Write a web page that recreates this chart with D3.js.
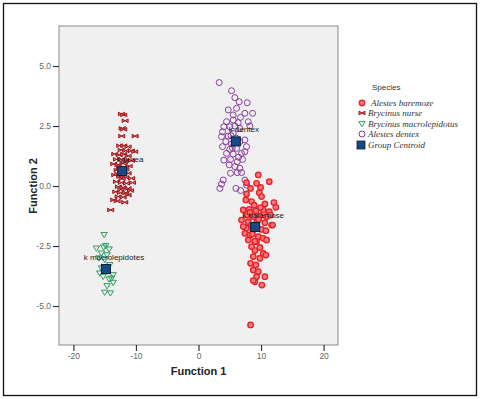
<!DOCTYPE html>
<html>
<head>
<meta charset="utf-8">
<script src="https://cdn.jsdelivr.net/npm/d3@7"></script>
<style>
  body { margin: 0; background: #fff; }
  svg { display: block; }
</style>
</head>
<body>
<div id="chart"></div>
<script>
// discriminant scores [function 1, function 2]
const baremoze = [
  [9.55, 0.46], [11.31, 0.18], [7.68, 0.14], [9.28, 0.11], [9.92, -0.06], [8.32, -0.10],
  [9.71, -0.28], [7.68, -0.33], [10.08, -0.44], [7.57, -0.58], [8.48, -0.65], [10.61, -0.75],
  [12.05, -0.69], [12.37, -0.89], [7.15, -1.0], [8.11, -0.97], [9.17, -1.03], [10.35, -1.0],
  [11.31, -1.07], [7.68, -1.21], [8.75, -1.28], [9.81, -1.25], [10.88, -1.28], [6.88, -1.42],
  [7.95, -1.49], [9.28, -1.53], [10.61, -1.53], [11.68, -1.63], [7.68, -1.76], [8.75, -1.83],
  [10.08, -1.81], [10.77, -1.86], [7.41, -1.97], [8.21, -2.04], [9.55, -2.11], [10.35, -2.18],
  [7.95, -2.25], [9.28, -2.32], [10.88, -2.25], [8.48, -2.53], [9.81, -2.56], [9.01, -2.69],
  [10.35, -2.81], [8.75, -2.94], [9.81, -3.01], [10.77, -2.88], [8.32, -3.22], [9.17, -3.29],
  [8.75, -3.50], [9.55, -3.57], [9.28, -3.78], [9.01, -3.99], [10.61, -3.78], [8.75, -3.94],
  [10.13, -4.13], [8.32, -5.79], [11.52, -1.21], [11.84, -1.63], [7.15, -1.69], [8.48, -1.63],
  [8.9, -0.8], [9.6, -1.4], [8.2, -1.1], [9.0, -2.3], [8.6, -2.0], [9.9, -0.9]
]
const nurse = [
  [-12.32, 3.0], [-11.95, 2.96], [-11.73, 2.72], [-12.21, 2.40], [-11.95, 2.36], [-12.27, 2.08],
  [-10.13, 2.08], [-12.59, 1.68], [-11.95, 1.68], [-11.25, 1.64], [-12.37, 1.50], [-11.63, 1.47],
  [-10.72, 1.47], [-10.19, 1.43], [-13.39, 1.33], [-12.69, 1.29], [-11.95, 1.33], [-11.25, 1.25],
  [-13.12, 1.11], [-12.32, 1.11], [-11.63, 1.08], [-10.72, 1.06], [-13.55, 0.92], [-12.85, 0.88],
  [-12.05, 0.94], [-11.09, 0.83], [-13.01, 0.67], [-11.95, 0.60], [-11.25, 0.53], [-13.39, 0.46],
  [-12.59, 0.39], [-11.63, 0.36], [-10.72, 0.32], [-13.12, 0.18], [-12.32, 0.14], [-11.52, 0.11],
  [-10.56, 0.14], [-12.80, -0.03], [-12.05, -0.06], [-11.25, -0.10], [-13.23, -0.24], [-12.48, -0.28],
  [-11.63, -0.28], [-10.88, -0.19], [-12.85, -0.44], [-12.05, -0.47], [-11.25, -0.38], [-13.55, -0.58],
  [-13.01, -0.63], [-11.79, -0.68], [-14.03, -1.0], [-12.6, 0.75], [-12.2, 0.3], [-11.8, 1.0],
  [-12.9, 0.5], [-12.4, -0.15], [-11.6, 0.7]
]
const macrolepidotus = [
  [-15.09, -2.04], [-16.32, -2.60], [-15.15, -2.56], [-14.29, -2.64], [-14.83, -2.50], [-15.52, -2.81],
  [-14.61, -2.88], [-15.89, -3.01], [-14.99, -3.08], [-14.19, -3.29], [-15.52, -3.43], [-14.61, -3.57],
  [-13.65, -3.71], [-15.25, -3.78], [-14.29, -3.89], [-13.65, -4.03], [-14.61, -4.17], [-14.99, -4.44],
  [-14.08, -4.47], [-15.79, -3.64], [-13.92, -3.85]
]
const dentex = [
  [3.31, 4.31], [5.28, 3.97], [5.81, 3.68], [6.51, 3.51], [7.79, 3.47], [4.75, 3.17],
  [6.08, 3.24], [7.41, 3.03], [8.64, 3.03], [5.55, 2.96], [6.72, 2.86], [4.48, 2.68],
  [5.55, 2.75], [6.35, 2.64], [7.95, 2.68], [5.01, 2.47], [4.05, 2.47], [6.61, 2.40],
  [8.21, 2.50], [3.68, 2.06], [4.75, 2.08], [5.55, 2.19], [4.37, 1.85], [5.28, 1.75],
  [6.61, 1.85], [7.41, 1.92], [3.84, 1.64], [5.01, 1.53], [6.08, 1.57], [7.68, 1.64],
  [4.48, 1.36], [5.55, 1.33], [6.88, 1.36], [7.41, 1.43], [4.05, 1.08], [5.12, 1.11],
  [6.19, 1.01], [7.04, 1.11], [4.91, 0.88], [5.81, 0.81], [6.61, 0.74], [5.12, 0.53],
  [6.19, 0.56], [6.88, 0.56], [7.41, 0.25], [7.68, 0.04], [3.95, 0.25], [3.68, 0.08],
  [3.41, -0.10], [5.97, -0.10], [6.72, -0.19], [3.84, 2.26], [5.81, 2.50],
  [5.2, 2.1], [6.0, 2.0], [5.4, 1.6], [6.4, 1.2]
]
const centroids = [
  { label: 'k baremose', x: 9.06, y: -1.71 },
  { label: 'k nurea', x: -12.2, y: 0.62 },
  { label: 'k macrolepidotes', x: -14.8, y: -3.46 },
  { label: 'k dentex', x: 5.97, y: 1.86 }
]
const xTicks = [-20, -10, 0, 10, 20]
const yTicks = [5, 2.5, 0, -2.5, -5]
const legendLabels = ['Alestes baremoze', 'Brycinus nurse', 'Brycinus macrolepidotus', 'Alestes dentex', 'Group Centroid']

const W = 489, H = 399
const plot = { left: 59, right: 338, top: 26, bottom: 345 }
const sans = 'Liberation Sans, Arial, sans-serif'

const svg = d3.select('#chart').append('svg').attr('width', W).attr('height', H)

// outer frame
svg.append('rect').attr('x', 3.5).attr('y', 3.5).attr('width', 473).attr('height', 392)
  .attr('fill', '#fff').attr('stroke', '#111').attr('stroke-width', 1.3)

const x = d3.scaleLinear().domain([-22.3, 22.3]).range([plot.left, plot.right])
const y = d3.scaleLinear().domain([-6.625, 6.667]).range([plot.bottom, plot.top])

svg.append('rect')
  .attr('x', plot.left).attr('y', plot.top)
  .attr('width', plot.right - plot.left).attr('height', plot.bottom - plot.top)
  .attr('fill', '#f0f0f0').attr('stroke', '#8a8a8a').attr('stroke-width', 1)

// axes (plain hyphen for negatives, like the original)
const fmtX = d => String(d)
const fmtY = d => d.toFixed(1)
const xAxis = d3.axisBottom(x).tickValues(xTicks).tickSize(6).tickPadding(2).tickFormat(fmtX)
const yAxis = d3.axisLeft(y).tickValues(yTicks).tickSize(6).tickPadding(2).tickFormat(fmtY)

const gx = svg.append('g').attr('transform', `translate(0,${plot.bottom})`).call(xAxis)
const gy = svg.append('g').attr('transform', `translate(${plot.left},0)`).call(yAxis)
for (const g of [gx, gy]) {
  g.select('.domain').remove()
  g.selectAll('.tick line').attr('stroke', '#333').attr('stroke-width', 1.2)
  g.selectAll('.tick text').attr('fill', '#666').attr('font-family', sans).attr('font-size', 8.5)
}

svg.append('text').attr('x', x(0)).attr('y', 375).attr('text-anchor', 'middle')
  .attr('font-family', sans).attr('font-weight', 'bold').attr('font-size', 11)
  .attr('fill', '#222').text('Function 1')
svg.append('text').attr('transform', `translate(37,${y(0)}) rotate(-90)`).attr('text-anchor', 'middle')
  .attr('font-family', sans).attr('font-weight', 'bold').attr('font-size', 11)
  .attr('fill', '#222').text('Function 2')

// marker shapes
const bowtie = 'M-3,-1.8L0,0L-3,1.8Z M3,-1.8L0,0L3,1.8Z'
const tri = 'M-3.2,-2.4L3.2,-2.4L0,2.8Z'

function drawBaremoze(g, px, py) {
  g.append('circle').attr('cx', px).attr('cy', py).attr('r', 2.7)
    .attr('fill', '#f27c7c').attr('stroke', '#e8232a').attr('stroke-width', 1.4)
}
function drawNurse(g, px, py) {
  g.append('path').attr('d', bowtie).attr('transform', `translate(${px},${py})`)
    .attr('fill', '#d98080').attr('stroke', '#9e1218').attr('stroke-width', 1)
}
function drawMacro(g, px, py) {
  g.append('path').attr('d', tri).attr('transform', `translate(${px},${py})`)
    .attr('fill', 'none').attr('stroke', '#2f9d60').attr('stroke-width', 1)
}
function drawDentex(g, px, py) {
  g.append('circle').attr('cx', px).attr('cy', py).attr('r', 3)
    .attr('fill', 'none').attr('stroke', '#8a3b9f').attr('stroke-width', 1)
}

const pts = svg.append('g')
dentex.forEach(d => drawDentex(pts, x(d[0]), y(d[1])))
baremoze.forEach(d => drawBaremoze(pts, x(d[0]), y(d[1])))
nurse.forEach(d => drawNurse(pts, x(d[0]), y(d[1])))
macrolepidotus.forEach(d => drawMacro(pts, x(d[0]), y(d[1])))

// centroids and their labels
const cg = svg.append('g')
centroids.forEach(c => {
  cg.append('text').attr('x', x(c.x) + 8).attr('y', y(c.y) - 9).attr('text-anchor', 'middle')
    .attr('font-family', sans).attr('font-size', 8)
    .attr('fill', '#222').text(c.label)
  cg.append('rect').attr('x', x(c.x) - 4.5).attr('y', y(c.y) - 4.5).attr('width', 9).attr('height', 9)
    .attr('fill', '#174a85').attr('stroke', '#0b1f3a').attr('stroke-width', 1)
})

// legend
const lg = svg.append('g')
lg.append('text').attr('x', 372).attr('y', 90)
  .attr('font-family', sans).attr('font-size', 8).attr('fill', '#333').text('Species')
const ly = [103, 113, 124, 134, 145]
const drawers = [drawBaremoze, drawNurse, drawMacro, drawDentex]
legendLabels.forEach((t, i) => {
  if (i < 4) drawers[i](lg, 362, ly[i])
  else lg.append('rect').attr('x', 357).attr('y', ly[i] - 4).attr('width', 8).attr('height', 8)
    .attr('fill', '#174a85').attr('stroke', '#0b1f3a').attr('stroke-width', 0.8)
  lg.append('text').attr('x', i === 0 ? 371 : 368).attr('y', ly[i] + 3)
    .attr('font-family', 'Liberation Serif, Times New Roman, serif').attr('font-style', 'italic')
    .attr('font-size', 9).attr('fill', '#333').text(t)
})
</script>
</body>
</html>
